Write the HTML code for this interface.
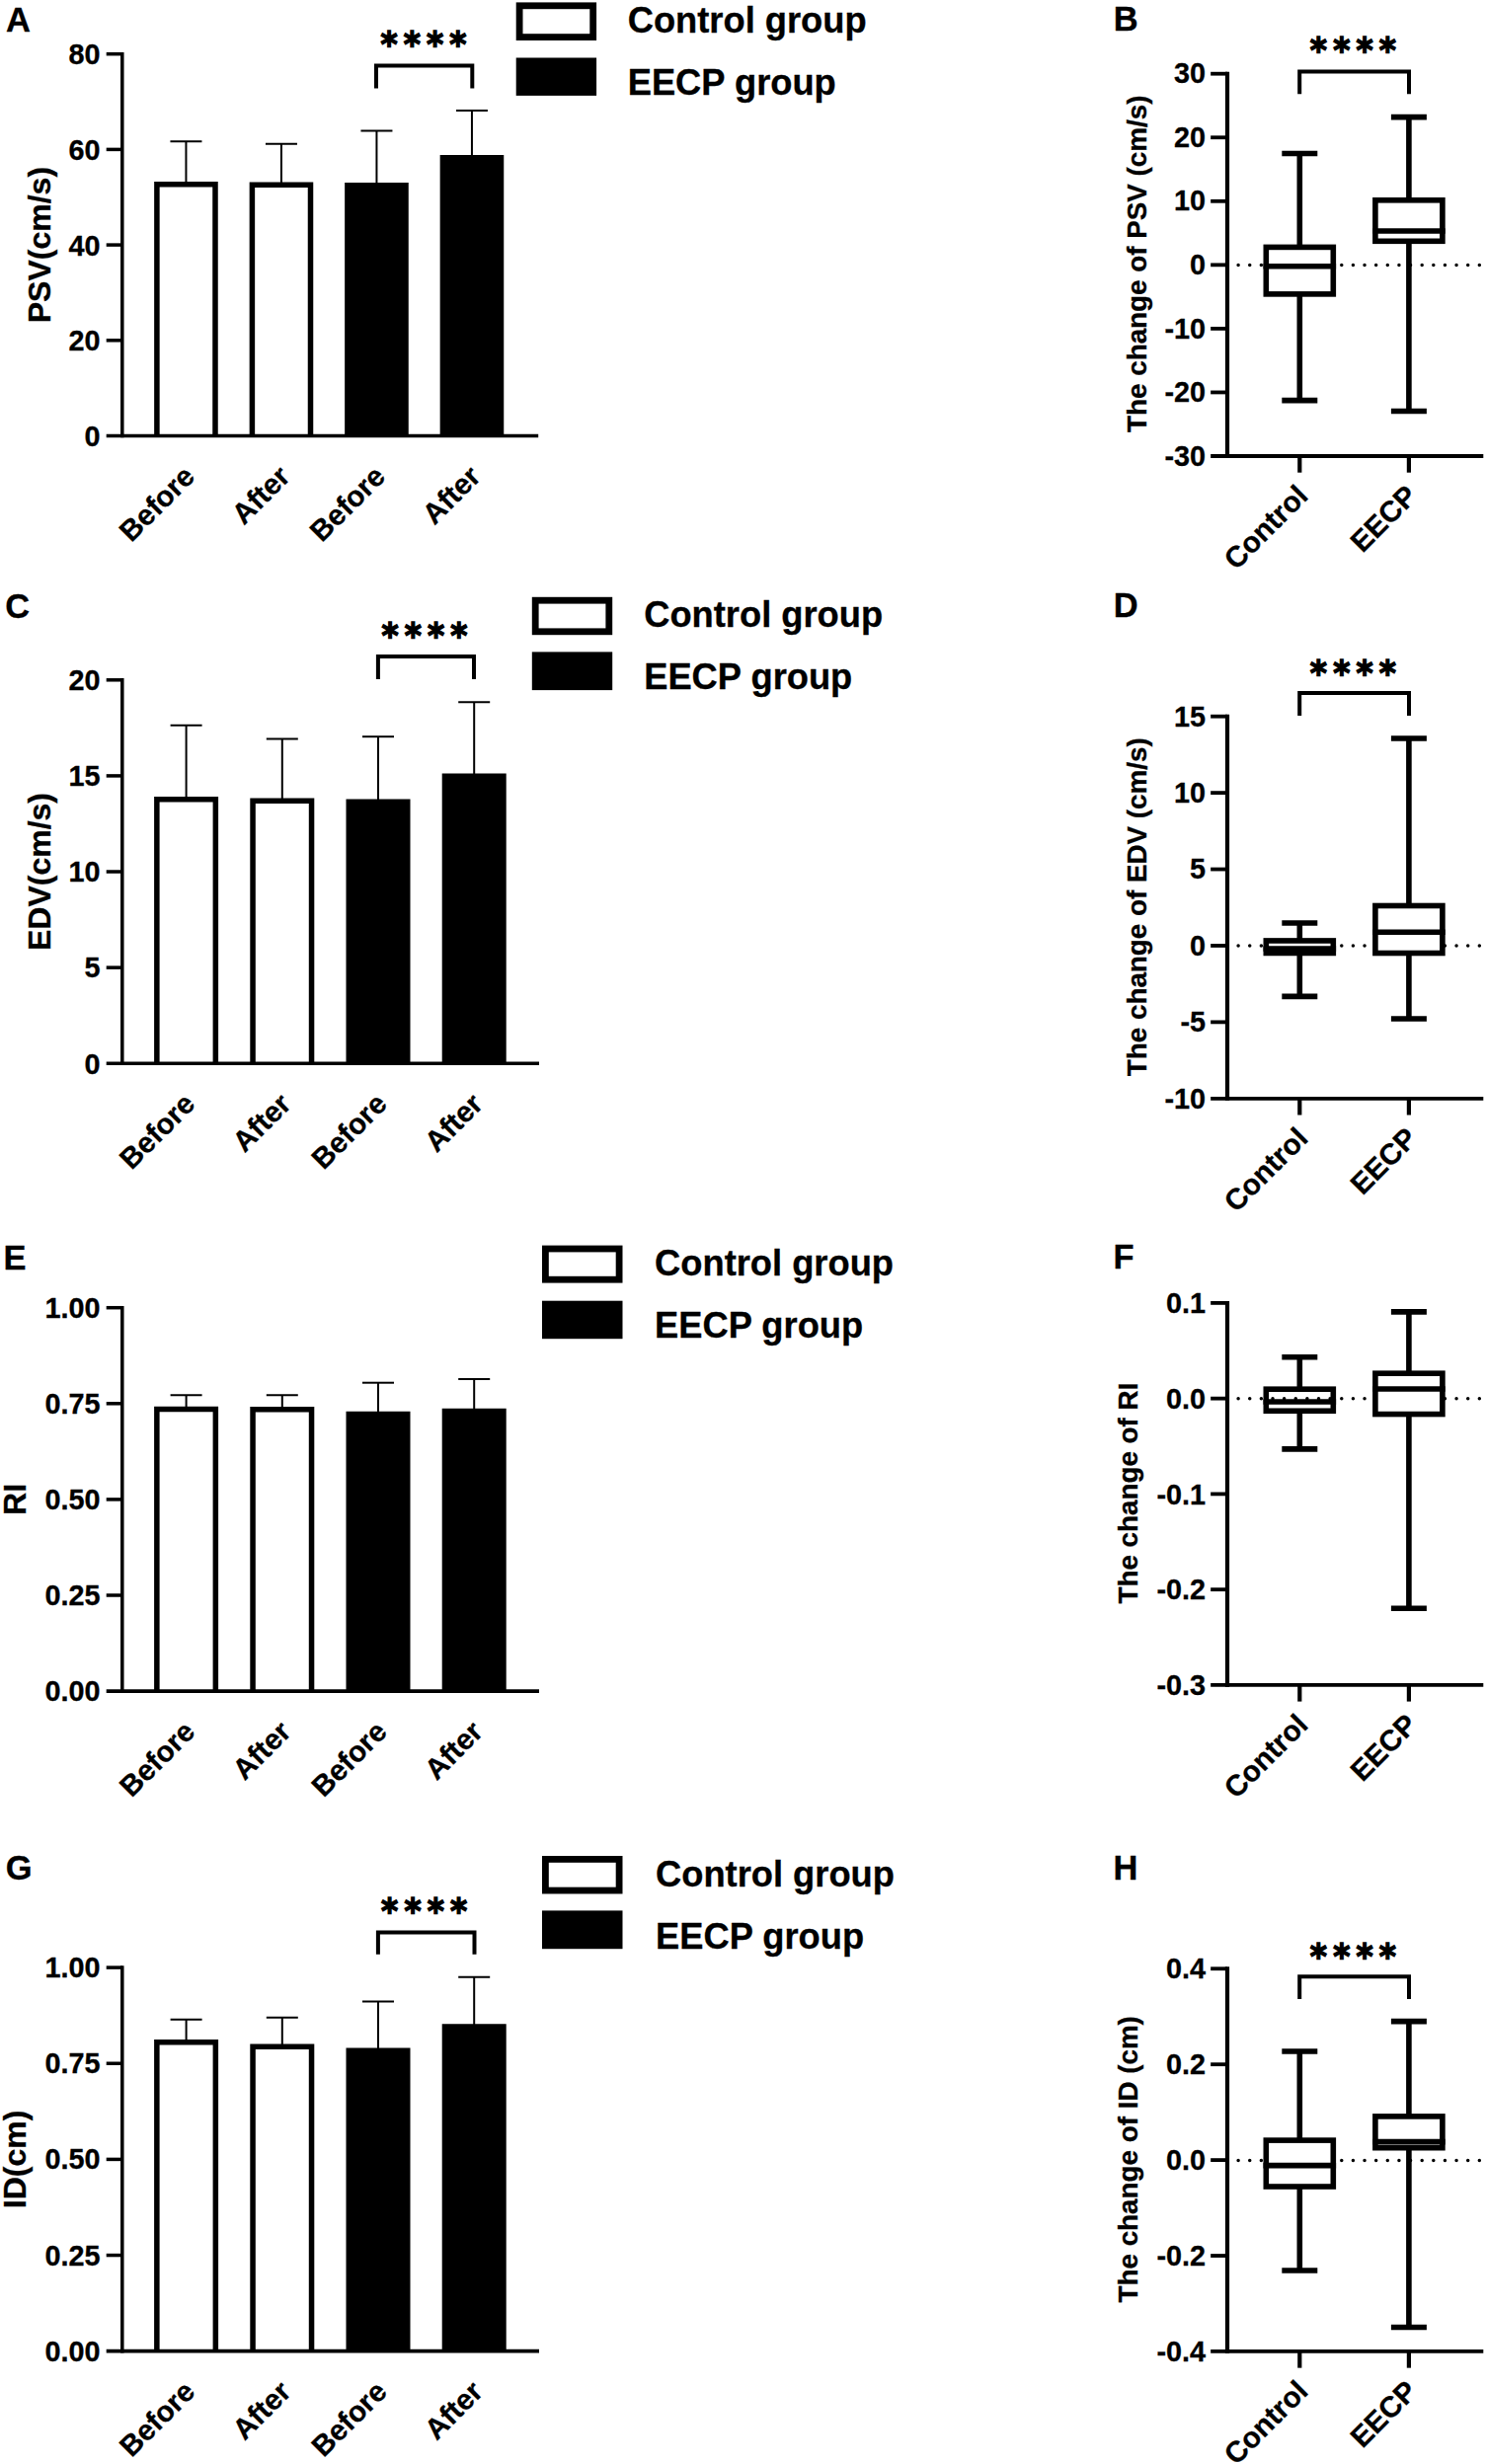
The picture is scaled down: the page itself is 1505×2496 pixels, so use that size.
<!DOCTYPE html>
<html lang="en">
<head>
<meta charset="utf-8">
<title>Figure: PSV, EDV, RI and ID before and after EECP</title>
<style>
html,body{margin:0;padding:0;background:#fff;}
body{width:1505px;height:2496px;overflow:hidden;}
svg{display:block;}
svg text{font-family:"Liberation Sans",sans-serif;font-weight:700;fill:#000;stroke:#000;stroke-width:0.3px;}
svg text.st{font-family:"DejaVu Sans","Liberation Sans",sans-serif;stroke:#000;stroke-width:1.5px;stroke-linejoin:miter;}
</style>
</head>
<body>
<svg width="1505" height="2496" viewBox="0 0 1505 2496" stroke="#000" fill="none">
<rect x="0" y="0" width="1505" height="2496" fill="#fff" stroke="none"/>
<g>
<text x="6" y="31.5" font-size="34.5">A</text>
<line x1="107.7" y1="54.7" x2="123.8" y2="54.7" stroke-width="3.5"/>
<text x="101.5" y="65.3" font-size="28.8" text-anchor="end">80</text>
<line x1="107.7" y1="151.4" x2="123.8" y2="151.4" stroke-width="3.5"/>
<text x="101.5" y="162" font-size="28.8" text-anchor="end">60</text>
<line x1="107.7" y1="248.1" x2="123.8" y2="248.1" stroke-width="3.5"/>
<text x="101.5" y="258.7" font-size="28.8" text-anchor="end">40</text>
<line x1="107.7" y1="344.8" x2="123.8" y2="344.8" stroke-width="3.5"/>
<text x="101.5" y="355.4" font-size="28.8" text-anchor="end">20</text>
<text x="101.5" y="452.1" font-size="28.8" text-anchor="end">0</text>
<text x="51" y="248.1" font-size="32" text-anchor="middle" transform="rotate(-90 51 248.1)">PSV(cm/s)</text>
<line x1="188.45" y1="143.3" x2="188.45" y2="186.1" stroke-width="2"/>
<line x1="172.45" y1="143.3" x2="204.45" y2="143.3" stroke-width="2"/>
<path d="M158.9 441.5V186.85H218V441.5" stroke-width="5.5" fill="#fff"/>
<text x="198.95" y="484.3" font-size="29.4" text-anchor="end" transform="rotate(-45 198.95 484.3)">Before</text>
<line x1="284.95" y1="145.8" x2="284.95" y2="186.6" stroke-width="2"/>
<line x1="268.95" y1="145.8" x2="300.95" y2="145.8" stroke-width="2"/>
<path d="M255.4 441.5V187.35H314.5V441.5" stroke-width="5.5" fill="#fff"/>
<text x="295.45" y="484.3" font-size="29.4" text-anchor="end" transform="rotate(-45 295.45 484.3)">After</text>
<line x1="381.45" y1="132.6" x2="381.45" y2="187.1" stroke-width="2"/>
<line x1="365.45" y1="132.6" x2="397.45" y2="132.6" stroke-width="2"/>
<path d="M351.9 441.5V187.85H411V441.5" stroke-width="5.5" fill="#000"/>
<text x="391.95" y="484.3" font-size="29.4" text-anchor="end" transform="rotate(-45 391.95 484.3)">Before</text>
<line x1="477.95" y1="112" x2="477.95" y2="158.9" stroke-width="2"/>
<line x1="461.95" y1="112" x2="493.95" y2="112" stroke-width="2"/>
<path d="M448.4 441.5V159.65H507.5V441.5" stroke-width="5.5" fill="#000"/>
<text x="488.45" y="484.3" font-size="29.4" text-anchor="end" transform="rotate(-45 488.45 484.3)">After</text>
<line x1="123.8" y1="52.95" x2="123.8" y2="443.25" stroke-width="3.5"/>
<line x1="107.7" y1="441.5" x2="545.2" y2="441.5" stroke-width="3.7"/>
<polyline points="381,89.4 381,66.6 478.3,66.6 478.3,89.4" fill="none" stroke-width="4"/>
<text class="st" transform="translate(385.4 57.39) scale(0.91 1)" x="0" y="0" font-size="36" letter-spacing="6.77">****</text>
<rect x="526.1" y="5.8" width="74.6" height="31.8" stroke-width="6.8" fill="#fff"/>
<rect x="522.7" y="58.5" width="81.4" height="38.4" fill="#000" stroke="none"/>
<text x="635.7" y="32.9" font-size="36.3">Control group</text>
<text x="635.7" y="95.9" font-size="36.3">EECP group</text>
</g>
<g>
<text x="5.2" y="625.8" font-size="34.5">C</text>
<line x1="107.7" y1="688.8" x2="123.8" y2="688.8" stroke-width="3.5"/>
<text x="101.5" y="699.1" font-size="28.8" text-anchor="end">20</text>
<line x1="107.7" y1="785.91" x2="123.8" y2="785.91" stroke-width="3.5"/>
<text x="101.5" y="796.21" font-size="28.8" text-anchor="end">15</text>
<line x1="107.7" y1="883.02" x2="123.8" y2="883.02" stroke-width="3.5"/>
<text x="101.5" y="893.32" font-size="28.8" text-anchor="end">10</text>
<line x1="107.7" y1="980.14" x2="123.8" y2="980.14" stroke-width="3.5"/>
<text x="101.5" y="990.44" font-size="28.8" text-anchor="end">5</text>
<text x="101.5" y="1087.55" font-size="28.8" text-anchor="end">0</text>
<text x="51" y="883.02" font-size="32" text-anchor="middle" transform="rotate(-90 51 883.02)">EDV(cm/s)</text>
<line x1="188.6" y1="734.8" x2="188.6" y2="809" stroke-width="2"/>
<line x1="172.6" y1="734.8" x2="204.6" y2="734.8" stroke-width="2"/>
<path d="M158.85 1077.25V809.75H218.35V1077.25" stroke-width="5.5" fill="#fff"/>
<text x="199.1" y="1120.05" font-size="29.4" text-anchor="end" transform="rotate(-45 199.1 1120.05)">Before</text>
<line x1="285.8" y1="748.5" x2="285.8" y2="810.4" stroke-width="2"/>
<line x1="269.8" y1="748.5" x2="301.8" y2="748.5" stroke-width="2"/>
<path d="M256.05 1077.25V811.15H315.55V1077.25" stroke-width="5.5" fill="#fff"/>
<text x="296.3" y="1120.05" font-size="29.4" text-anchor="end" transform="rotate(-45 296.3 1120.05)">After</text>
<line x1="383" y1="746.2" x2="383" y2="811.4" stroke-width="2"/>
<line x1="367" y1="746.2" x2="399" y2="746.2" stroke-width="2"/>
<path d="M353.25 1077.25V812.15H412.75V1077.25" stroke-width="5.5" fill="#000"/>
<text x="393.5" y="1120.05" font-size="29.4" text-anchor="end" transform="rotate(-45 393.5 1120.05)">Before</text>
<line x1="480.2" y1="711.3" x2="480.2" y2="785.5" stroke-width="2"/>
<line x1="464.2" y1="711.3" x2="496.2" y2="711.3" stroke-width="2"/>
<path d="M450.45 1077.25V786.25H509.95V1077.25" stroke-width="5.5" fill="#000"/>
<text x="490.7" y="1120.05" font-size="29.4" text-anchor="end" transform="rotate(-45 490.7 1120.05)">After</text>
<line x1="123.8" y1="687.05" x2="123.8" y2="1079" stroke-width="3.5"/>
<line x1="107.7" y1="1077.25" x2="546" y2="1077.25" stroke-width="3.7"/>
<polyline points="382.9,688 382.9,665.1 480,665.1 480,688" fill="none" stroke-width="4"/>
<text class="st" transform="translate(386.4 656.49) scale(0.91 1)" x="0" y="0" font-size="36" letter-spacing="6.77">****</text>
<rect x="542.2" y="608.2" width="74.6" height="31.6" stroke-width="6.8" fill="#fff"/>
<rect x="538.8" y="660.4" width="81.4" height="38.7" fill="#000" stroke="none"/>
<text x="652.2" y="634.8" font-size="36.3">Control group</text>
<text x="652.2" y="698" font-size="36.3">EECP group</text>
</g>
<g>
<text x="3.6" y="1285.6" font-size="34.5">E</text>
<line x1="107.7" y1="1324.7" x2="123.8" y2="1324.7" stroke-width="3.5"/>
<text x="101.5" y="1334.7" font-size="28.8" text-anchor="end">1.00</text>
<line x1="107.7" y1="1421.8" x2="123.8" y2="1421.8" stroke-width="3.5"/>
<text x="101.5" y="1431.8" font-size="28.8" text-anchor="end">0.75</text>
<line x1="107.7" y1="1518.9" x2="123.8" y2="1518.9" stroke-width="3.5"/>
<text x="101.5" y="1528.9" font-size="28.8" text-anchor="end">0.50</text>
<line x1="107.7" y1="1616" x2="123.8" y2="1616" stroke-width="3.5"/>
<text x="101.5" y="1626" font-size="28.8" text-anchor="end">0.25</text>
<text x="101.5" y="1723.1" font-size="28.8" text-anchor="end">0.00</text>
<text x="26" y="1518.9" font-size="32" text-anchor="middle" transform="rotate(-90 26 1518.9)">RI</text>
<line x1="188.6" y1="1413.2" x2="188.6" y2="1426.7" stroke-width="2"/>
<line x1="172.6" y1="1413.2" x2="204.6" y2="1413.2" stroke-width="2"/>
<path d="M158.85 1713.1V1427.45H218.35V1713.1" stroke-width="5.5" fill="#fff"/>
<text x="199.1" y="1755.9" font-size="29.4" text-anchor="end" transform="rotate(-45 199.1 1755.9)">Before</text>
<line x1="285.8" y1="1413.2" x2="285.8" y2="1427" stroke-width="2"/>
<line x1="269.8" y1="1413.2" x2="301.8" y2="1413.2" stroke-width="2"/>
<path d="M256.05 1713.1V1427.75H315.55V1713.1" stroke-width="5.5" fill="#fff"/>
<text x="296.3" y="1755.9" font-size="29.4" text-anchor="end" transform="rotate(-45 296.3 1755.9)">After</text>
<line x1="383" y1="1400.7" x2="383" y2="1431.8" stroke-width="2"/>
<line x1="367" y1="1400.7" x2="399" y2="1400.7" stroke-width="2"/>
<path d="M353.25 1713.1V1432.55H412.75V1713.1" stroke-width="5.5" fill="#000"/>
<text x="393.5" y="1755.9" font-size="29.4" text-anchor="end" transform="rotate(-45 393.5 1755.9)">Before</text>
<line x1="480.2" y1="1397" x2="480.2" y2="1428.85" stroke-width="2"/>
<line x1="464.2" y1="1397" x2="496.2" y2="1397" stroke-width="2"/>
<path d="M450.45 1713.1V1429.6H509.95V1713.1" stroke-width="5.5" fill="#000"/>
<text x="490.7" y="1755.9" font-size="29.4" text-anchor="end" transform="rotate(-45 490.7 1755.9)">After</text>
<line x1="123.8" y1="1322.95" x2="123.8" y2="1714.85" stroke-width="3.5"/>
<line x1="107.7" y1="1713.1" x2="546" y2="1713.1" stroke-width="3.7"/>
<rect x="552.4" y="1265" width="74.7" height="31.2" stroke-width="6.8" fill="#fff"/>
<rect x="549" y="1317.7" width="81.5" height="38.5" fill="#000" stroke="none"/>
<text x="663.1" y="1292" font-size="36.3">Control group</text>
<text x="663.1" y="1355.3" font-size="36.3">EECP group</text>
</g>
<g>
<text x="5.8" y="1904.4" font-size="34.5">G</text>
<line x1="107.7" y1="1993.1" x2="123.8" y2="1993.1" stroke-width="3.5"/>
<text x="101.5" y="2003.15" font-size="28.8" text-anchor="end">1.00</text>
<line x1="107.7" y1="2090.25" x2="123.8" y2="2090.25" stroke-width="3.5"/>
<text x="101.5" y="2100.3" font-size="28.8" text-anchor="end">0.75</text>
<line x1="107.7" y1="2187.4" x2="123.8" y2="2187.4" stroke-width="3.5"/>
<text x="101.5" y="2197.45" font-size="28.8" text-anchor="end">0.50</text>
<line x1="107.7" y1="2284.55" x2="123.8" y2="2284.55" stroke-width="3.5"/>
<text x="101.5" y="2294.6" font-size="28.8" text-anchor="end">0.25</text>
<text x="101.5" y="2391.75" font-size="28.8" text-anchor="end">0.00</text>
<text x="26" y="2187.4" font-size="32" text-anchor="middle" transform="rotate(-90 26 2187.4)">ID(cm)</text>
<line x1="188.6" y1="2045.75" x2="188.6" y2="2067.9" stroke-width="2"/>
<line x1="172.6" y1="2045.75" x2="204.6" y2="2045.75" stroke-width="2"/>
<path d="M158.85 2381.7V2068.65H218.35V2381.7" stroke-width="5.5" fill="#fff"/>
<text x="199.1" y="2424.5" font-size="29.4" text-anchor="end" transform="rotate(-45 199.1 2424.5)">Before</text>
<line x1="285.8" y1="2043.7" x2="285.8" y2="2072.4" stroke-width="2"/>
<line x1="269.8" y1="2043.7" x2="301.8" y2="2043.7" stroke-width="2"/>
<path d="M256.05 2381.7V2073.15H315.55V2381.7" stroke-width="5.5" fill="#fff"/>
<text x="296.3" y="2424.5" font-size="29.4" text-anchor="end" transform="rotate(-45 296.3 2424.5)">After</text>
<line x1="383" y1="2027.5" x2="383" y2="2076.6" stroke-width="2"/>
<line x1="367" y1="2027.5" x2="399" y2="2027.5" stroke-width="2"/>
<path d="M353.25 2381.7V2077.35H412.75V2381.7" stroke-width="5.5" fill="#000"/>
<text x="393.5" y="2424.5" font-size="29.4" text-anchor="end" transform="rotate(-45 393.5 2424.5)">Before</text>
<line x1="480.2" y1="2002.7" x2="480.2" y2="2052.35" stroke-width="2"/>
<line x1="464.2" y1="2002.7" x2="496.2" y2="2002.7" stroke-width="2"/>
<path d="M450.45 2381.7V2053.1H509.95V2381.7" stroke-width="5.5" fill="#000"/>
<text x="490.7" y="2424.5" font-size="29.4" text-anchor="end" transform="rotate(-45 490.7 2424.5)">After</text>
<line x1="123.8" y1="1991.35" x2="123.8" y2="2383.45" stroke-width="3.5"/>
<line x1="107.7" y1="2381.7" x2="546" y2="2381.7" stroke-width="3.7"/>
<polyline points="382.9,1979.8 382.9,1957.5 480.5,1957.5 480.5,1979.8" fill="none" stroke-width="4"/>
<text class="st" transform="translate(386.1 1947.99) scale(0.91 1)" x="0" y="0" font-size="36" letter-spacing="6.77">****</text>
<rect x="552.4" y="1883.4" width="74.7" height="31.65" stroke-width="6.8" fill="#fff"/>
<rect x="549" y="1935.4" width="81.5" height="38.8" fill="#000" stroke="none"/>
<text x="664" y="1910.5" font-size="36.3">Control group</text>
<text x="664" y="1973.8" font-size="36.3">EECP group</text>
</g>
<g>
<text x="1127.8" y="30.8" font-size="34.5">B</text>
<line x1="1243" y1="72.7" x2="1243" y2="464" stroke-width="4.2"/>
<line x1="1226.15" y1="462" x2="1502.3" y2="462" stroke-width="3.8"/>
<line x1="1226.15" y1="74.7" x2="1243" y2="74.7" stroke-width="3.8"/>
<text x="1221" y="84.3" font-size="28.8" text-anchor="end">30</text>
<line x1="1226.15" y1="139.25" x2="1243" y2="139.25" stroke-width="3.8"/>
<text x="1221" y="148.85" font-size="28.8" text-anchor="end">20</text>
<line x1="1226.15" y1="203.8" x2="1243" y2="203.8" stroke-width="3.8"/>
<text x="1221" y="213.4" font-size="28.8" text-anchor="end">10</text>
<line x1="1226.15" y1="268.35" x2="1243" y2="268.35" stroke-width="3.8"/>
<text x="1221" y="277.95" font-size="28.8" text-anchor="end">0</text>
<line x1="1226.15" y1="332.9" x2="1243" y2="332.9" stroke-width="3.8"/>
<text x="1221" y="342.5" font-size="28.8" text-anchor="end">-10</text>
<line x1="1226.15" y1="397.45" x2="1243" y2="397.45" stroke-width="3.8"/>
<text x="1221" y="407.05" font-size="28.8" text-anchor="end">-20</text>
<text x="1221" y="471.6" font-size="28.8" text-anchor="end">-30</text>
<text x="1160.9" y="267.25" font-size="27.8" text-anchor="middle" transform="rotate(-90 1160.9 267.25)">The change of PSV (cm/s)</text>
<line x1="1254.1" y1="268.5" x2="1498.83" y2="268.5" stroke-width="3.5" stroke-linecap="round" stroke-dasharray="0 11.63"/>
<line x1="1316.3" y1="462" x2="1316.3" y2="478.7" stroke-width="4.2"/>
<line x1="1316.3" y1="155.5" x2="1316.3" y2="249.6" stroke-width="5.6"/>
<line x1="1316.3" y1="298.7" x2="1316.3" y2="405.6" stroke-width="5.6"/>
<line x1="1298.3" y1="155.5" x2="1334.3" y2="155.5" stroke-width="5.6"/>
<line x1="1298.3" y1="405.6" x2="1334.3" y2="405.6" stroke-width="5.6"/>
<rect x="1282.3" y="250.4" width="68" height="47.5" stroke-width="5.6" fill="#fff"/>
<line x1="1279.5" y1="269.7" x2="1353.1" y2="269.7" stroke-width="5.6"/>
<text x="1326.3" y="504" font-size="29.6" text-anchor="end" transform="rotate(-45 1326.3 504)">Control</text>
<line x1="1426.9" y1="462" x2="1426.9" y2="478.7" stroke-width="4.2"/>
<line x1="1426.9" y1="118.6" x2="1426.9" y2="202" stroke-width="5.6"/>
<line x1="1426.9" y1="245.1" x2="1426.9" y2="416.5" stroke-width="5.6"/>
<line x1="1408.9" y1="118.6" x2="1444.9" y2="118.6" stroke-width="5.6"/>
<line x1="1408.9" y1="416.5" x2="1444.9" y2="416.5" stroke-width="5.6"/>
<rect x="1392.9" y="202.8" width="68" height="41.5" stroke-width="5.6" fill="#fff"/>
<line x1="1390.1" y1="234" x2="1463.7" y2="234" stroke-width="5.6"/>
<text x="1436.9" y="504" font-size="29.6" text-anchor="end" transform="rotate(-45 1436.9 504)">EECP</text>
<polyline points="1316.2,95.2 1316.2,72.5 1427,72.5 1427,95.2" fill="none" stroke-width="4"/>
<text class="st" transform="translate(1326.85 62.94) scale(0.91 1)" x="0" y="0" font-size="36" letter-spacing="6.77">****</text>
</g>
<g>
<text x="1127.8" y="625" font-size="34.5">D</text>
<line x1="1243" y1="723.7" x2="1243" y2="1114.8" stroke-width="4.2"/>
<line x1="1226.15" y1="1112.8" x2="1502.3" y2="1112.8" stroke-width="3.8"/>
<line x1="1226.15" y1="725.7" x2="1243" y2="725.7" stroke-width="3.8"/>
<text x="1221" y="735.5" font-size="28.8" text-anchor="end">15</text>
<line x1="1226.15" y1="803.12" x2="1243" y2="803.12" stroke-width="3.8"/>
<text x="1221" y="812.92" font-size="28.8" text-anchor="end">10</text>
<line x1="1226.15" y1="880.54" x2="1243" y2="880.54" stroke-width="3.8"/>
<text x="1221" y="890.34" font-size="28.8" text-anchor="end">5</text>
<line x1="1226.15" y1="957.96" x2="1243" y2="957.96" stroke-width="3.8"/>
<text x="1221" y="967.76" font-size="28.8" text-anchor="end">0</text>
<line x1="1226.15" y1="1035.38" x2="1243" y2="1035.38" stroke-width="3.8"/>
<text x="1221" y="1045.18" font-size="28.8" text-anchor="end">-5</text>
<text x="1221" y="1122.6" font-size="28.8" text-anchor="end">-10</text>
<text x="1160.9" y="918.75" font-size="27.8" text-anchor="middle" transform="rotate(-90 1160.9 918.75)">The change of EDV (cm/s)</text>
<line x1="1254.1" y1="957.9" x2="1498.83" y2="957.9" stroke-width="3.5" stroke-linecap="round" stroke-dasharray="0 11.63"/>
<line x1="1316.3" y1="1112.8" x2="1316.3" y2="1129.5" stroke-width="4.2"/>
<line x1="1316.3" y1="935" x2="1316.3" y2="952.15" stroke-width="5.6"/>
<line x1="1316.3" y1="966.25" x2="1316.3" y2="1009.4" stroke-width="5.6"/>
<line x1="1298.3" y1="935" x2="1334.3" y2="935" stroke-width="5.6"/>
<line x1="1298.3" y1="1009.4" x2="1334.3" y2="1009.4" stroke-width="5.6"/>
<rect x="1282.3" y="952.95" width="68" height="12.5" stroke-width="5.6" fill="#fff"/>
<line x1="1279.5" y1="961" x2="1353.1" y2="961" stroke-width="5.6"/>
<text x="1326.3" y="1154.8" font-size="29.6" text-anchor="end" transform="rotate(-45 1326.3 1154.8)">Control</text>
<line x1="1426.9" y1="1112.8" x2="1426.9" y2="1129.5" stroke-width="4.2"/>
<line x1="1426.9" y1="748" x2="1426.9" y2="916.7" stroke-width="5.6"/>
<line x1="1426.9" y1="966.3" x2="1426.9" y2="1032" stroke-width="5.6"/>
<line x1="1408.9" y1="748" x2="1444.9" y2="748" stroke-width="5.6"/>
<line x1="1408.9" y1="1032" x2="1444.9" y2="1032" stroke-width="5.6"/>
<rect x="1392.9" y="917.5" width="68" height="48" stroke-width="5.6" fill="#fff"/>
<line x1="1390.1" y1="944.2" x2="1463.7" y2="944.2" stroke-width="5.6"/>
<text x="1436.9" y="1154.8" font-size="29.6" text-anchor="end" transform="rotate(-45 1436.9 1154.8)">EECP</text>
<polyline points="1316.2,725 1316.2,702.1 1427,702.1 1427,725" fill="none" stroke-width="4"/>
<text class="st" transform="translate(1326.85 693.89) scale(0.91 1)" x="0" y="0" font-size="36" letter-spacing="6.77">****</text>
</g>
<g>
<text x="1127.6" y="1284.8" font-size="34.5">F</text>
<line x1="1243" y1="1317.9" x2="1243" y2="1708.9" stroke-width="4.2"/>
<line x1="1226.15" y1="1706.9" x2="1502.3" y2="1706.9" stroke-width="3.8"/>
<line x1="1226.15" y1="1319.9" x2="1243" y2="1319.9" stroke-width="3.8"/>
<text x="1221" y="1330.2" font-size="28.8" text-anchor="end">0.1</text>
<line x1="1226.15" y1="1416.65" x2="1243" y2="1416.65" stroke-width="3.8"/>
<text x="1221" y="1426.95" font-size="28.8" text-anchor="end">0.0</text>
<line x1="1226.15" y1="1513.4" x2="1243" y2="1513.4" stroke-width="3.8"/>
<text x="1221" y="1523.7" font-size="28.8" text-anchor="end">-0.1</text>
<line x1="1226.15" y1="1610.15" x2="1243" y2="1610.15" stroke-width="3.8"/>
<text x="1221" y="1620.45" font-size="28.8" text-anchor="end">-0.2</text>
<text x="1221" y="1717.2" font-size="28.8" text-anchor="end">-0.3</text>
<text x="1152.2" y="1512.6" font-size="27.8" text-anchor="middle" transform="rotate(-90 1152.2 1512.6)">The change of RI</text>
<line x1="1316.3" y1="1706.9" x2="1316.3" y2="1723.6" stroke-width="4.2"/>
<line x1="1316.3" y1="1374.7" x2="1316.3" y2="1406.4" stroke-width="5.6"/>
<line x1="1316.3" y1="1430.05" x2="1316.3" y2="1467.9" stroke-width="5.6"/>
<line x1="1298.3" y1="1374.7" x2="1334.3" y2="1374.7" stroke-width="5.6"/>
<line x1="1298.3" y1="1467.9" x2="1334.3" y2="1467.9" stroke-width="5.6"/>
<rect x="1282.3" y="1407.2" width="68" height="22.05" stroke-width="5.6" fill="#fff"/>
<line x1="1254.1" y1="1416.8" x2="1498.83" y2="1416.8" stroke-width="3.5" stroke-linecap="round" stroke-dasharray="0 11.63"/>
<line x1="1279.5" y1="1420" x2="1353.1" y2="1420" stroke-width="5.6"/>
<text x="1326.3" y="1748.9" font-size="29.6" text-anchor="end" transform="rotate(-45 1326.3 1748.9)">Control</text>
<line x1="1426.9" y1="1706.9" x2="1426.9" y2="1723.6" stroke-width="4.2"/>
<line x1="1426.9" y1="1328.9" x2="1426.9" y2="1390.4" stroke-width="5.6"/>
<line x1="1426.9" y1="1433.35" x2="1426.9" y2="1629.3" stroke-width="5.6"/>
<line x1="1408.9" y1="1328.9" x2="1444.9" y2="1328.9" stroke-width="5.6"/>
<line x1="1408.9" y1="1629.3" x2="1444.9" y2="1629.3" stroke-width="5.6"/>
<rect x="1392.9" y="1391.2" width="68" height="41.35" stroke-width="5.6" fill="#fff"/>
<line x1="1390.1" y1="1407" x2="1463.7" y2="1407" stroke-width="5.6"/>
<text x="1436.9" y="1748.9" font-size="29.6" text-anchor="end" transform="rotate(-45 1436.9 1748.9)">EECP</text>
</g>
<g>
<text x="1127.5" y="1903.7" font-size="34.5">H</text>
<line x1="1243" y1="1992.25" x2="1243" y2="2383.95" stroke-width="4.2"/>
<line x1="1226.15" y1="2381.95" x2="1502.3" y2="2381.95" stroke-width="3.8"/>
<line x1="1226.15" y1="1994.25" x2="1243" y2="1994.25" stroke-width="3.8"/>
<text x="1221" y="2004.45" font-size="28.8" text-anchor="end">0.4</text>
<line x1="1226.15" y1="2091.18" x2="1243" y2="2091.18" stroke-width="3.8"/>
<text x="1221" y="2101.38" font-size="28.8" text-anchor="end">0.2</text>
<line x1="1226.15" y1="2188.1" x2="1243" y2="2188.1" stroke-width="3.8"/>
<text x="1221" y="2198.3" font-size="28.8" text-anchor="end">0.0</text>
<line x1="1226.15" y1="2285.02" x2="1243" y2="2285.02" stroke-width="3.8"/>
<text x="1221" y="2295.22" font-size="28.8" text-anchor="end">-0.2</text>
<text x="1221" y="2392.15" font-size="28.8" text-anchor="end">-0.4</text>
<text x="1152.2" y="2187.3" font-size="27.8" text-anchor="middle" transform="rotate(-90 1152.2 2187.3)">The change of ID (cm)</text>
<line x1="1254.1" y1="2188.5" x2="1498.83" y2="2188.5" stroke-width="3.5" stroke-linecap="round" stroke-dasharray="0 11.63"/>
<line x1="1316.3" y1="2381.95" x2="1316.3" y2="2398.65" stroke-width="4.2"/>
<line x1="1316.3" y1="2078" x2="1316.3" y2="2167.3" stroke-width="5.6"/>
<line x1="1316.3" y1="2215.8" x2="1316.3" y2="2300" stroke-width="5.6"/>
<line x1="1298.3" y1="2078" x2="1334.3" y2="2078" stroke-width="5.6"/>
<line x1="1298.3" y1="2300" x2="1334.3" y2="2300" stroke-width="5.6"/>
<rect x="1282.3" y="2168.1" width="68" height="46.9" stroke-width="5.6" fill="#fff"/>
<line x1="1279.5" y1="2193.6" x2="1353.1" y2="2193.6" stroke-width="5.6"/>
<text x="1326.3" y="2423.95" font-size="29.6" text-anchor="end" transform="rotate(-45 1326.3 2423.95)">Control</text>
<line x1="1426.9" y1="2381.95" x2="1426.9" y2="2398.65" stroke-width="4.2"/>
<line x1="1426.9" y1="2047.6" x2="1426.9" y2="2143.1" stroke-width="5.6"/>
<line x1="1426.9" y1="2176.5" x2="1426.9" y2="2357.5" stroke-width="5.6"/>
<line x1="1408.9" y1="2047.6" x2="1444.9" y2="2047.6" stroke-width="5.6"/>
<line x1="1408.9" y1="2357.5" x2="1444.9" y2="2357.5" stroke-width="5.6"/>
<rect x="1392.9" y="2143.9" width="68" height="31.8" stroke-width="5.6" fill="#fff"/>
<line x1="1390.1" y1="2169.6" x2="1463.7" y2="2169.6" stroke-width="5.6"/>
<text x="1436.9" y="2423.95" font-size="29.6" text-anchor="end" transform="rotate(-45 1436.9 2423.95)">EECP</text>
<polyline points="1316.2,2025.1 1316.2,2002.25 1427,2002.25 1427,2025.1" fill="none" stroke-width="4"/>
<text class="st" transform="translate(1326.85 1994.39) scale(0.91 1)" x="0" y="0" font-size="36" letter-spacing="6.77">****</text>
</g>
</svg>
</body>
</html>
